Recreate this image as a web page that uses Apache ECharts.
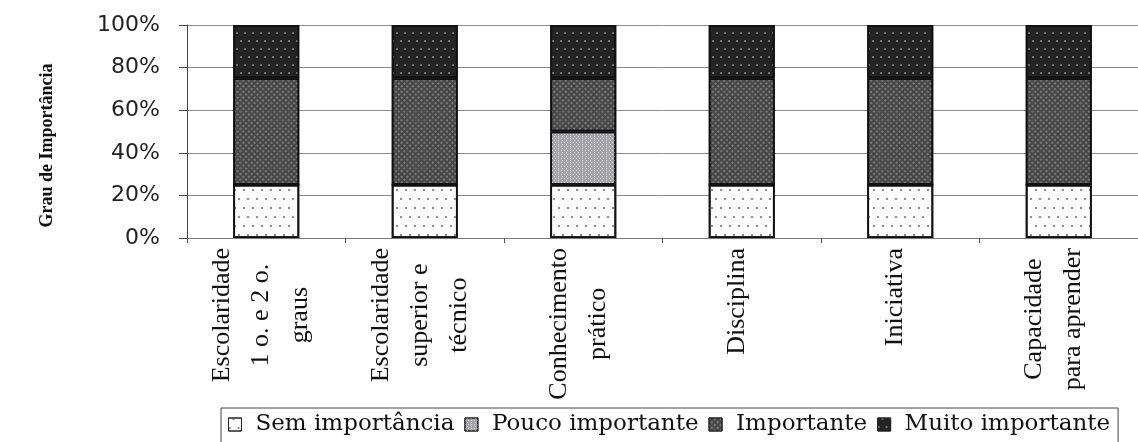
<!DOCTYPE html>
<html>
<head>
<meta charset="utf-8">
<script src="https://cdn.jsdelivr.net/npm/echarts@6/dist/echarts.min.js"></script>
<style>
  html, body { margin: 0; padding: 0; background: #fff; }
  #chart { width: 1138px; height: 442px; }
</style>
</head>
<body>
<div id="chart"></div>
<script>
// Categories (multi-line labels) and the share of answers per importance level, in %
const categories = [
  'Escolaridade\n1 o. e 2 o.\ngraus',
  'Escolaridade\nsuperior e\ntécnico',
  'Conhecimento\nprático',
  'Disciplina',
  'Iniciativa',
  'Capacidade\npara aprender'
];
const semImportancia   = [25, 25, 25, 25, 25, 25];
const poucoImportante  = [0, 0, 25, 0, 0, 0];
const importante       = [50, 50, 25, 50, 50, 50];
const muitoImportante  = [25, 25, 25, 25, 25, 25];
const yTicks = [0, 20, 40, 60, 80, 100];

const seriesNames = ['Sem importância', 'Pouco importante', 'Importante', 'Muito importante'];

// Hatch / dot fills, one per importance level
const fills = [
  { color: '#ffffff', decal: { symbol: 'circle', symbolSize: 1, color: '#6a6a6a',
      dashArrayX: [[1.6, 6.4], [0, 4, 1.6, 2.4]], dashArrayY: [1.6, 6.4] } },
  { color: '#a5a5a9', decal: { symbol: 'rect', symbolSize: 1, color: '#d4d4d8',
      dashArrayX: [[1, 2], [0, 1.5, 1, 0.5]], dashArrayY: [1, 1] } },
  { color: '#474747', decal: { symbol: 'rect', symbolSize: 1, color: '#7a7a7a',
      dashArrayX: [1.2, 1.8], dashArrayY: [1.2, 1.8], rotation: Math.PI / 4 } },
  { color: '#242424', decal: { symbol: 'circle', symbolSize: 1, color: '#8a8a8a',
      dashArrayX: [[1.6, 5.4], [0, 3.5, 1.6, 1.9]], dashArrayY: [1.6, 5.4] } }
];

const values = [semImportancia, poucoImportante, importante, muitoImportante];

const chart = echarts.init(document.getElementById('chart'), null, { renderer: 'canvas' });

chart.setOption({
  animation: false,
  backgroundColor: '#ffffff',
  grid: { left: 187, right: -11, top: 25, bottom: 204, containLabel: false },
  legend: {
    data: seriesNames,
    left: 221,
    top: 408,
    orient: 'horizontal',
    icon: 'rect',
    itemWidth: 13,
    itemHeight: 13,
    itemGap: 10,
    padding: [5, 8, 7, 7],
    borderColor: '#444',
    borderWidth: 1,
    itemStyle: { borderColor: '#222', borderWidth: 1 },
    textStyle: { fontFamily: 'DejaVu Serif', fontSize: 23, color: '#111', padding: [0, 0, 0, 9] }
  },
  xAxis: {
    type: 'category',
    data: categories,
    boundaryGap: true,
    axisLine: { show: true, lineStyle: { color: '#7a7a7a', width: 1 } },
    axisTick: { show: true, length: 5, lineStyle: { color: '#555' } },
    axisLabel: {
      interval: 0,
      rotate: 90,
      margin: 10,
      padding: [0, 0, 10, 0],
      formatter: (v) => v.split('\n').map(s => '{c|' + s + '}').join('\n'),
      rich: {
        c: { align: 'center', fontFamily: 'Liberation Serif', fontSize: 26, lineHeight: 39, color: '#111' }
      }
    },
    splitLine: { show: false }
  },
  yAxis: {
    type: 'value',
    min: yTicks[0],
    max: yTicks[yTicks.length - 1],
    interval: yTicks[1] - yTicks[0],
    name: 'Grau de Importância',
    nameLocation: 'middle',
    nameGap: 131,
    nameRotate: 90,
    nameTextStyle: {
      fontFamily: 'Liberation Serif', fontWeight: 'bold', fontSize: 18, color: '#111',
      padding: [0, 28, 0, 0]
    },
    axisLine: { show: true, lineStyle: { color: '#444', width: 1 } },
    axisTick: { show: true, length: 8, inside: false, lineStyle: { color: '#444' } },
    axisLabel: {
      margin: 27,
      formatter: '{value}%',
      fontFamily: 'DejaVu Sans',
      fontSize: 22,
      color: '#222'
    },
    splitLine: { show: true, lineStyle: { color: '#8a8a8a', width: 1 } }
  },
  series: seriesNames.map((name, i) => ({
    name: name,
    type: 'bar',
    stack: 'total',
    barWidth: 66,
    data: values[i],
    itemStyle: {
      color: fills[i].color,
      decal: fills[i].decal,
      borderColor: '#111',
      borderWidth: 1.8
    },
    emphasis: { disabled: true }
  }))
});
</script>
</body>
</html>
